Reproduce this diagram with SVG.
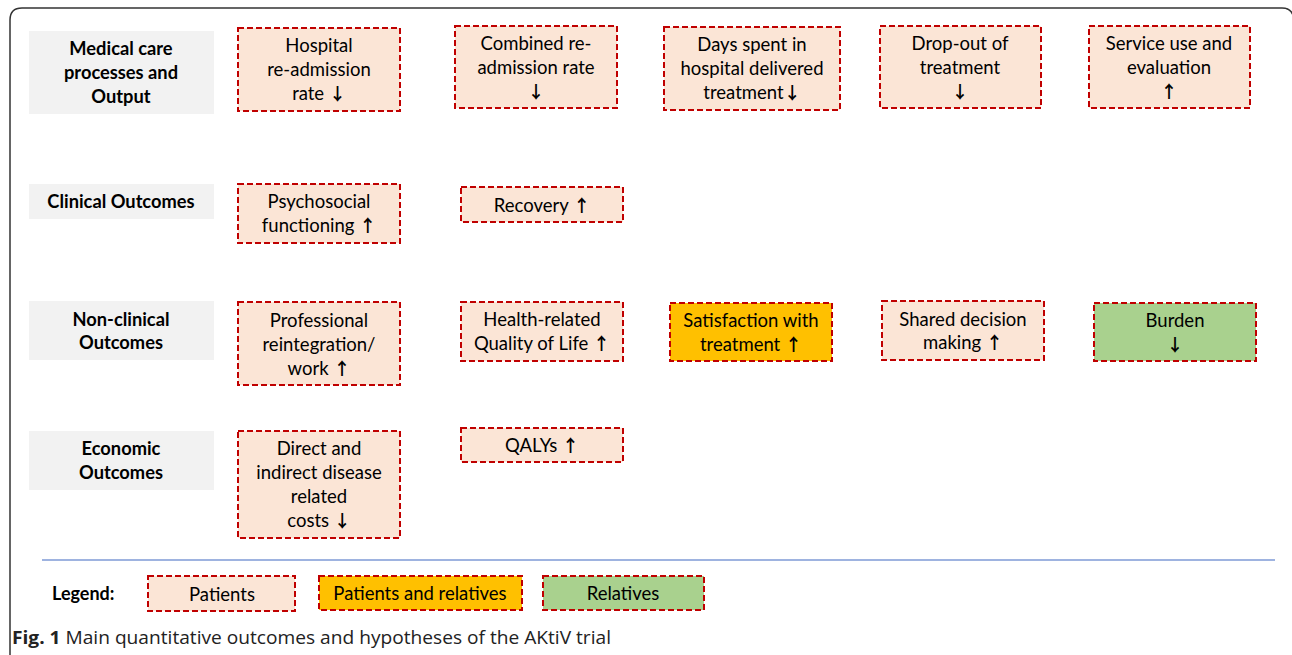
<svg xmlns="http://www.w3.org/2000/svg" width="1292" height="655" viewBox="0 0 1292 655">
<style>
.cat{fill:#f2f2f2}
.ct{font-family:Lato,"Liberation Sans",sans-serif;font-weight:bold;font-size:18.3px;fill:#000;text-anchor:middle}
.n{stroke:#c00000;stroke-width:2;stroke-dasharray:6,3}
.p{fill:#fbe5d6}
.o{fill:#ffc000}
.g{fill:#a9d18e}
.t{font-family:Lato,"Liberation Sans",sans-serif;font-size:18.5px;fill:#000;text-anchor:middle}
.a{font-weight:bold;font-family:"Noto Sans CJK SC",sans-serif;font-size:17px}
</style>
<rect width="1292" height="655" fill="#fff"/>
<path d="M10,668 V20 Q10,8 22,8 H1282 Q1293,8 1294,20" fill="none" stroke="#333" stroke-width="1.5"/>

<g id="cat-medical"><rect class="cat" x="29" y="31" width="185" height="83"/>
<text class="ct" x="121" y="55">Medical care</text><text class="ct" x="121" y="79">processes and</text><text class="ct" x="121" y="103">Output</text></g>
<g id="cat-clinical"><rect class="cat" x="29" y="184" width="185" height="35"/>
<text class="ct" x="121" y="208">Clinical Outcomes</text></g>
<g id="cat-nonclinical"><rect class="cat" x="29" y="301" width="185" height="59"/>
<text class="ct" x="121" y="326">Non-clinical</text><text class="ct" x="121" y="349">Outcomes</text></g>
<g id="cat-economic"><rect class="cat" x="29" y="431" width="185" height="59"/>
<text class="ct" x="121" y="455">Economic</text><text class="ct" x="121" y="479">Outcomes</text></g>

<g id="n-hospital"><rect class="n p" x="238" y="28" width="162" height="83"/>
<text class="t" x="319" y="52">Hospital</text><text class="t" x="319" y="76">re-admission</text><text class="t" x="319" y="100">rate <tspan class="a">↓</tspan></text></g>
<g id="n-combined"><rect class="n p" x="455" y="26" width="162" height="82"/>
<text class="t" x="536" y="50">Combined re-</text><text class="t" x="536" y="74">admission rate</text><text class="t" x="536" y="98"><tspan class="a">↓</tspan></text></g>
<g id="n-days"><rect class="n p" x="664" y="27" width="176" height="83"/>
<text class="t" x="752" y="51">Days spent in</text><text class="t" x="752" y="75">hospital delivered</text><text class="t" x="752" y="99">treatment<tspan class="a">↓</tspan></text></g>
<g id="n-dropout"><rect class="n p" x="880" y="26" width="161" height="82"/>
<text class="t" x="960" y="50">Drop-out of</text><text class="t" x="960" y="74">treatment</text><text class="t" x="960" y="98"><tspan class="a">↓</tspan></text></g>
<g id="n-service"><rect class="n p" x="1089" y="26" width="161" height="82"/>
<text class="t" x="1169" y="50">Service use and</text><text class="t" x="1169" y="74">evaluation</text><text class="t" x="1169" y="98"><tspan class="a">↑</tspan></text></g>

<g id="n-psycho"><rect class="n p" x="238" y="184" width="162" height="59"/>
<text class="t" x="319" y="208">Psychosocial</text><text class="t" x="319" y="232">functioning <tspan class="a">↑</tspan></text></g>
<g id="n-recovery"><rect class="n p" x="461" y="187" width="162" height="35"/>
<text class="t" x="542" y="212">Recovery <tspan class="a">↑</tspan></text></g>

<g id="n-professional"><rect class="n p" x="238" y="302" width="162" height="83"/>
<text class="t" x="319" y="327">Professional</text><text class="t" x="319" y="351">reintegration/</text><text class="t" x="319" y="375">work <tspan class="a">↑</tspan></text></g>
<g id="n-hrqol"><rect class="n p" x="461" y="302" width="162" height="59"/>
<text class="t" x="542" y="326">Health-related</text><text class="t" x="542" y="350">Quality of Life <tspan class="a">↑</tspan></text></g>
<g id="n-satisfaction"><rect class="n o" x="670" y="303" width="162" height="58"/>
<text class="t" x="751" y="327">Satisfaction with</text><text class="t" x="751" y="351">treatment <tspan class="a">↑</tspan></text></g>
<g id="n-shared"><rect class="n p" x="882" y="301" width="162" height="59"/>
<text class="t" x="963" y="326">Shared decision</text><text class="t" x="963" y="349">making <tspan class="a">↑</tspan></text></g>
<g id="n-burden"><rect class="n g" x="1094" y="303" width="162" height="58"/>
<text class="t" x="1175" y="327">Burden</text><text class="t" x="1175" y="351"><tspan class="a">↓</tspan></text></g>

<g id="n-costs"><rect class="n p" x="238" y="431" width="162" height="107"/>
<text class="t" x="319" y="455">Direct and</text><text class="t" x="319" y="479">indirect disease</text><text class="t" x="319" y="503">related</text><text class="t" x="319" y="527">costs <tspan class="a">↓</tspan></text></g>
<g id="n-qalys"><rect class="n p" x="461" y="428" width="162" height="34"/>
<text class="t" x="542" y="452">QALYs <tspan class="a">↑</tspan></text></g>

<g id="connectors"></g>

<line x1="42" y1="560" x2="1275" y2="560" stroke="#9eb3e0" stroke-width="2"/>

<g id="legend">
<text x="52" y="600" font-family="Lato,'Liberation Sans',sans-serif" font-weight="bold" font-size="18">Legend:</text>
<rect class="n p" x="148" y="576" width="147" height="35"/>
<text class="t" x="222" y="601">Patients</text>
<rect class="n o" x="319" y="576" width="203" height="34"/>
<text class="t" x="420" y="600">Patients and relatives</text>
<rect class="n g" x="543" y="576" width="161" height="34"/>
<text class="t" x="623" y="600">Relatives</text>
</g>

<text x="12" y="644" font-family="'Open Sans',sans-serif" font-size="18" fill="#222" textLength="599" lengthAdjust="spacingAndGlyphs"><tspan font-weight="bold">Fig. 1</tspan> Main quantitative outcomes and hypotheses of the AKtiV trial</text>
</svg>
